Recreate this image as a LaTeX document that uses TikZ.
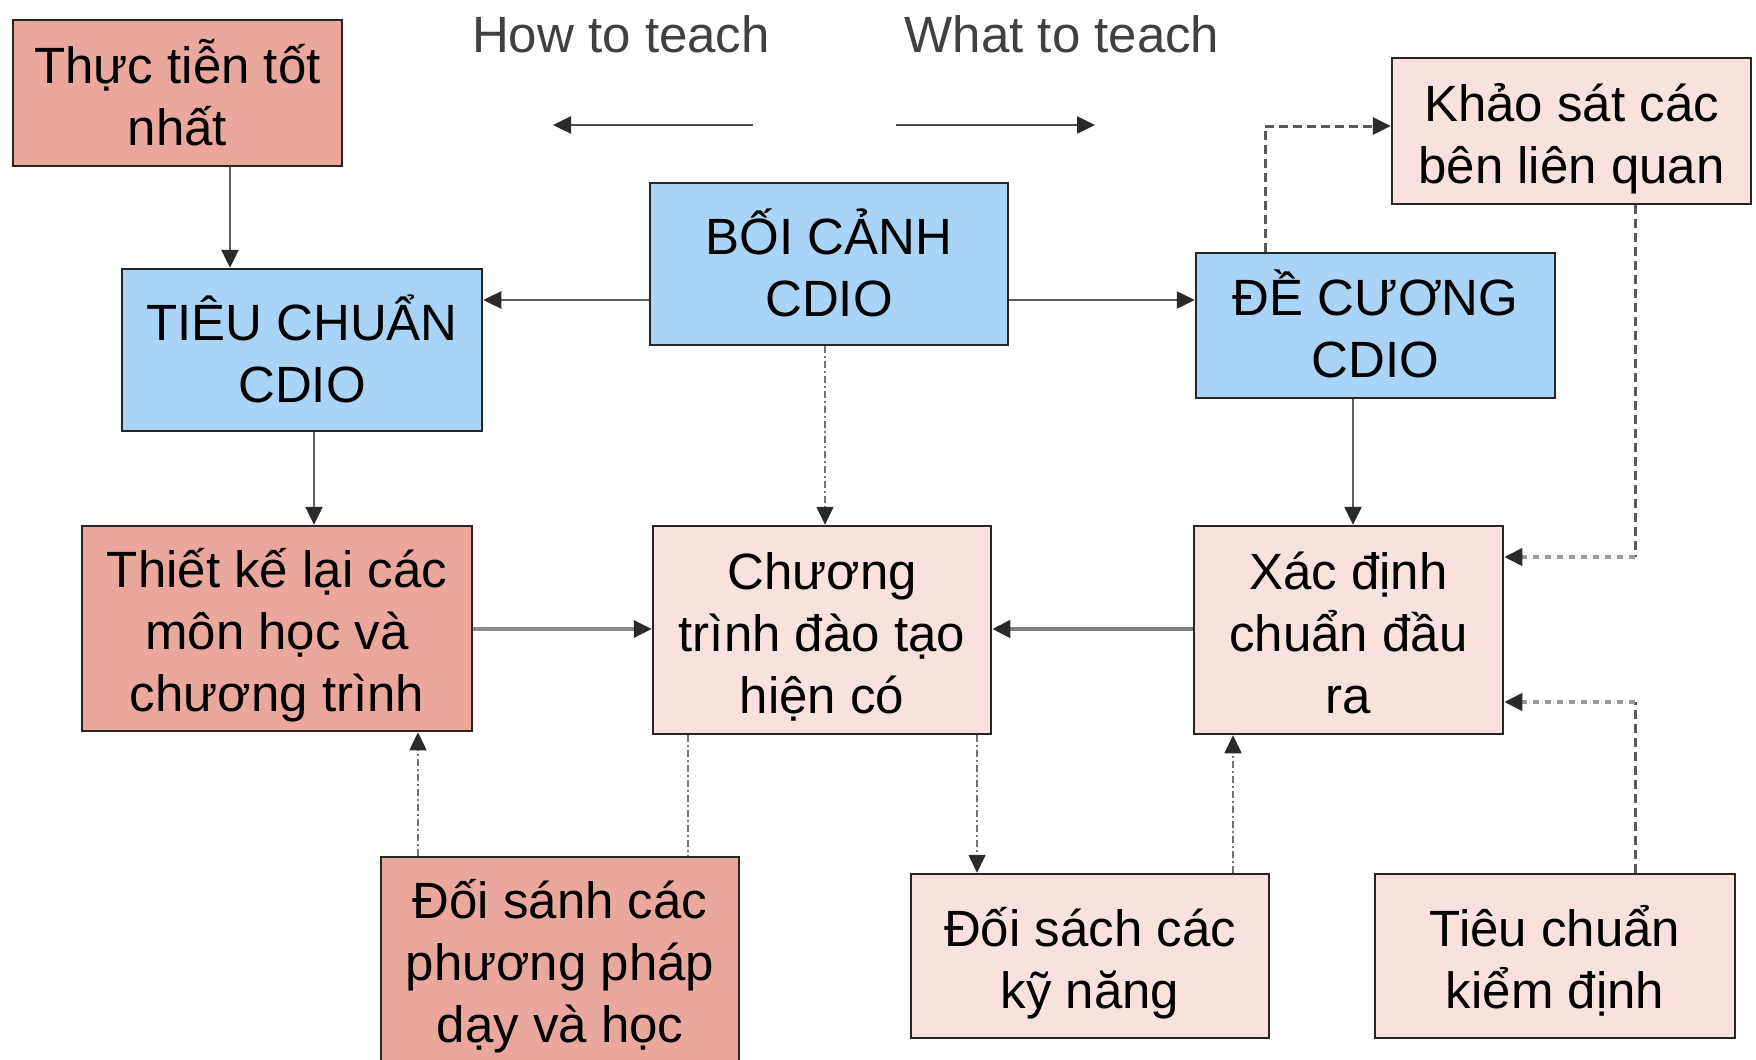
\documentclass[tikz,border=0pt]{standalone}
\usepackage{fontspec}
\setmainfont{Liberation Sans}
\usetikzlibrary{arrows.meta,calc}
\definecolor{bluebox}{HTML}{A9D4F8}
\definecolor{salmonbox}{HTML}{EAA89C}
\definecolor{pinkbox}{HTML}{F9E2DD}
\definecolor{edgecol}{HTML}{262626}
\definecolor{linecol}{HTML}{5E5E5E}
\definecolor{tipcol}{HTML}{2A2A2A}
\tikzset{
  box/.style={draw=edgecol, line width=2.5pt, align=center, inner sep=0pt,
    font=\fontsize{51}{62}\selectfont, text=black, text depth=15pt},
  twolines/.style={text height=119pt},
  threelines/.style={text height=181pt},
  bluenode/.style={box, fill=bluebox},
  salmonnode/.style={box, fill=salmonbox},
  pinknode/.style={box, fill=pinkbox},
  tip/.style={-{Triangle[length=18pt,width=17pt,color=tipcol,fill=tipcol]}},
  solidline/.style={draw=linecol, line width=2.5pt},
  thickline/.style={draw=black!50, line width=4.5pt},
  dashdotline/.style={draw=black!55, line width=1.6pt, dash pattern=on 7pt off 3pt on 2pt off 3pt},
  dashline/.style={draw=black!65, line width=3pt, dash pattern=on 9pt off 5pt},
  dotline/.style={draw=black!40, line width=4pt, dash pattern=on 6pt off 6pt},
  toptext/.style={font=\fontsize{51}{62}\selectfont, text=black!75, inner sep=0pt, anchor=base},
}
\begin{document}
\begin{tikzpicture}[x=1pt,y=-1pt]
\fill[white] (0,0) rectangle (1756,1060);
\useasboundingbox (0,0) rectangle (1756,1060);

% header texts
\node[toptext] (how) at (621,52) {How to teach};
\node[toptext] (what) at (1062,52) {What to teach};
\coordinate (hl1) at (753,125);
\coordinate (hl2) at (553,125);
\coordinate (hr1) at (896,125);
\coordinate (hr2) at (1095,125);
\draw[draw=black!70, line width=2.5pt, tip] (hl1) -- (hl2);
\draw[draw=black!70, line width=2.5pt, tip] (hr1) -- (hr2);

% boxes
\node[salmonnode, twolines, minimum width=329pt, minimum height=146pt] (thuc) at (177.5,93) {Thực tiễn tốt\\nhất};
\node[bluenode, twolines, minimum width=360pt, minimum height=162pt] (tieu) at (302,350) {TIÊU CHUẨN\\CDIO};
\node[bluenode, twolines, minimum width=358pt, minimum height=162pt] (boi) at (829,264) {BỐI CẢNH\\CDIO};
\node[bluenode, twolines, minimum width=359pt, minimum height=145pt] (de) at (1375.5,325.5) {ĐỀ CƯƠNG\\CDIO};
\node[pinknode, twolines, minimum width=359pt, minimum height=146pt] (khao) at (1571.5,131) {Khảo sát các\\bên liên quan};
\node[salmonnode, threelines, minimum width=390pt, minimum height=205pt] (thiet) at (277,628.5) {Thiết kế lại các\\môn học và\\chương trình};
\node[pinknode, threelines, minimum width=338pt, minimum height=208pt] (chuong) at (822,630) {Chương\\trình đào tạo\\hiện có};
\node[pinknode, threelines, minimum width=309pt, minimum height=208pt] (xac) at (1348.5,630) {Xác định\\chuẩn đầu\\ra};
\node[salmonnode, threelines, minimum width=358pt, minimum height=205pt] (doisanh) at (560,959.5) {Đối sánh các\\phương pháp\\dạy và học};
\node[pinknode, twolines, minimum width=358pt, minimum height=164pt] (doisach) at (1090,956) {Đối sách các\\kỹ năng};
\node[pinknode, twolines, minimum width=360pt, minimum height=164pt] (tieuchuan) at (1555,956) {Tiêu chuẩn\\kiểm định};

% guide coordinates
\coordinate (v1) at (230,0);
\coordinate (v2) at (314,0);
\coordinate (v3) at (825,0);
\coordinate (v4) at (1353,0);
\coordinate (v5) at (418,0);
\coordinate (v6) at (688,0);
\coordinate (v7) at (977,0);
\coordinate (v8) at (1233,0);
\coordinate (h1) at (0,300);
\coordinate (h2) at (0,629);
\coordinate (dk) at (1265,126);
\coordinate (kx) at (1635,557);
\coordinate (tx) at (1635,702);

% solid connectors
\draw[solidline, tip] (thuc.south -| v1) -- (tieu.north -| v1);
\draw[solidline, tip] (boi.west |- h1) -- (tieu.east |- h1);
\draw[solidline, tip] (boi.east |- h1) -- (de.west |- h1);
\draw[solidline, tip] (tieu.south -| v2) -- (thiet.north -| v2);
\draw[solidline, tip] (de.south -| v4) -- (xac.north -| v4);
\draw[draw=black!45, line width=3.5pt, tip] (thiet.east |- h2) -- (chuong.west |- h2);
\draw[thickline, tip] (xac.west |- h2) -- (chuong.east |- h2);

% dash-dot connectors
\draw[dashdotline, tip] (boi.south -| v3) -- (chuong.north -| v3);
\draw[dashdotline, tip] (doisanh.north -| v5) -- (thiet.south -| v5);
\draw[dashdotline] (chuong.south -| v6) -- (doisanh.north -| v6);
\draw[dashdotline, tip] (chuong.south -| v7) -- (doisach.north -| v7);
\draw[dashdotline, tip] (doisach.north -| v8) -- (xac.south -| v8);

% dashed / dotted connectors
\draw[dashline, tip] (de.north -| dk) -- (dk) -- (khao.west |- dk);
\draw[dashline] (khao.south -| kx) -- (kx);
\draw[dotline, tip] (kx) -- (xac.east |- kx);
\draw[dashline] (tieuchuan.north -| tx) -- (tx);
\draw[dotline, tip] (tx) -- (xac.east |- tx);
\end{tikzpicture}
\end{document}
